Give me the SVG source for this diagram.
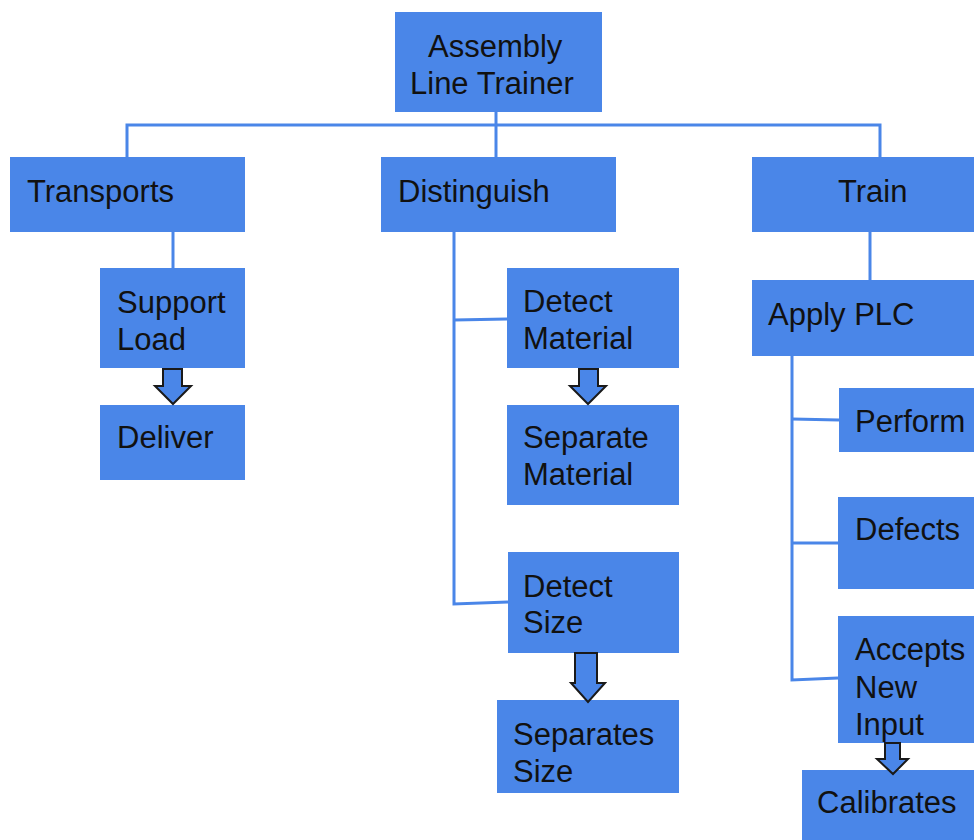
<svg xmlns="http://www.w3.org/2000/svg" width="974" height="840" viewBox="0 0 974 840">
<style>
.box{fill:#4a86e8;stroke:none}
.t{font-family:"Liberation Sans",Arial,sans-serif;font-size:31px;fill:#111}
.ln{fill:none;stroke:#4a86e8;stroke-width:3}
.arr{fill:#4a86e8;stroke:#1a1a1a;stroke-width:2;stroke-linejoin:miter}
</style>
<rect width="974" height="840" fill="#fff"/>
<g id="root"><rect class="box" x="395" y="12" width="207" height="100"/><text class="t" x="428" y="57">Assembly</text><text class="t" x="410" y="94">Line Trainer</text></g>
<g id="transports"><rect class="box" x="10" y="157" width="235" height="75"/><text class="t" x="27" y="202">Transports</text></g>
<g id="support-load"><rect class="box" x="100" y="268" width="145" height="100"/><text class="t" x="117" y="313">Support</text><text class="t" x="117" y="350">Load</text></g>
<g id="deliver"><rect class="box" x="100" y="405" width="145" height="75"/><text class="t" x="117" y="448">Deliver</text></g>
<g id="distinguish"><rect class="box" x="381" y="157" width="235" height="75"/><text class="t" x="398" y="202">Distinguish</text></g>
<g id="detect-material"><rect class="box" x="507" y="268" width="172" height="100"/><text class="t" x="523" y="312">Detect</text><text class="t" x="523" y="349">Material</text></g>
<g id="separate-material"><rect class="box" x="507" y="405" width="172" height="100"/><text class="t" x="523" y="448">Separate</text><text class="t" x="523" y="485">Material</text></g>
<g id="detect-size"><rect class="box" x="508" y="552" width="171" height="101"/><text class="t" x="523" y="597">Detect</text><text class="t" x="523" y="633">Size</text></g>
<g id="separates-size"><rect class="box" x="497" y="700" width="182" height="93"/><text class="t" x="513" y="745">Separates</text><text class="t" x="513" y="782">Size</text></g>
<g id="train"><rect class="box" x="752" y="157" width="222" height="75"/><text class="t" x="838" y="202">Train</text></g>
<g id="apply-plc"><rect class="box" x="752" y="280" width="222" height="76"/><text class="t" x="768" y="325">Apply PLC</text></g>
<g id="perform"><rect class="box" x="839" y="388" width="135" height="64"/><text class="t" x="855" y="432">Perform</text></g>
<g id="defects"><rect class="box" x="838" y="497" width="136" height="92"/><text class="t" x="855" y="540">Defects</text></g>
<g id="accepts-new-input"><rect class="box" x="838" y="616" width="136" height="127"/><text class="t" x="855" y="660">Accepts</text><text class="t" x="855" y="698">New</text><text class="t" x="855" y="735">Input</text></g>
<g id="calibrates"><rect class="box" x="802" y="770" width="172" height="70"/><text class="t" x="817" y="813">Calibrates</text></g>
<g id="connectors">
<polyline class="ln" points="127,157 127,125 880,125 880,157"/>
<line class="ln" x1="496" y1="112" x2="496" y2="157"/>
<line class="ln" x1="173" y1="232" x2="173" y2="268"/>
<polyline class="ln" points="454,232 454,604 508,602"/>
<line class="ln" x1="454" y1="320" x2="507" y2="319"/>
<line class="ln" x1="870" y1="232" x2="870" y2="280"/>
<polyline class="ln" points="792,356 792,680 838,678"/>
<line class="ln" x1="792" y1="419" x2="839" y2="420"/>
<line class="ln" x1="792" y1="543" x2="838" y2="543"/>
<path class="arr" d="M163,369 H182 V386 H191 L173,404 L155,386 H163 Z"/>
<path class="arr" d="M579,369 H598 V386 H606 L588,404 L570,386 H579 Z"/>
<path class="arr" d="M575,653 H597 V683 H605 L588,702 L571,683 H575 Z"/>
<path class="arr" d="M885,743 H900 V759 H908 L893,774 L877,759 H885 Z"/>
</g>
</svg>
